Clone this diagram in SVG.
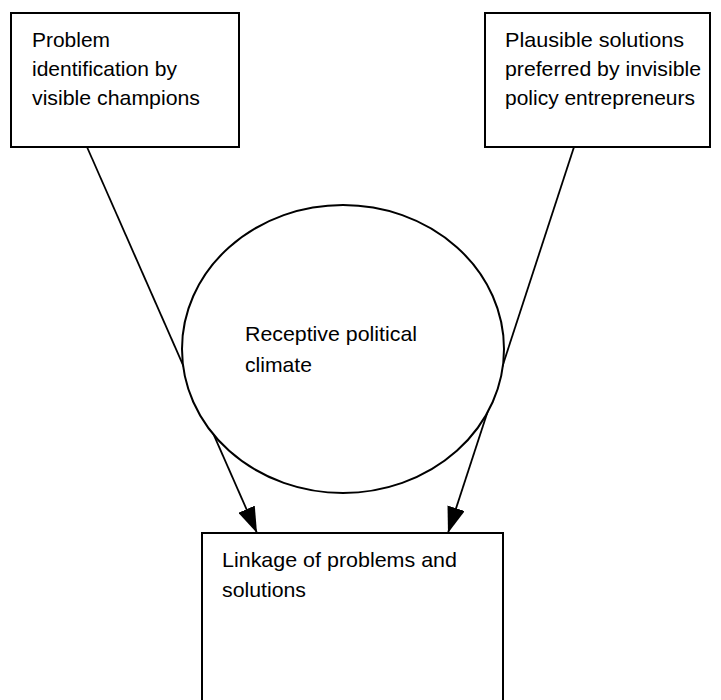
<svg xmlns="http://www.w3.org/2000/svg" width="721" height="700" viewBox="0 0 721 700">
<style>
.box{fill:#fff;stroke:#000;stroke-width:2}
.t{font-family:"Liberation Sans",Arial,sans-serif;font-size:21px;fill:#000}
.conn{stroke:#000;stroke-width:1.8;fill:none}
</style>
<defs>
<marker id="ah" markerUnits="userSpaceOnUse" markerWidth="26" markerHeight="18" refX="26" refY="9" orient="auto">
<path d="M0,0 L26,9 L0,18 z" fill="#000"/>
</marker>
</defs>
<rect width="721" height="700" fill="#fff"/>
<g id="connectors">
<line class="conn" x1="87" y1="147" x2="257" y2="533" marker-end="url(#ah)"/>
<line class="conn" x1="574" y1="147" x2="448" y2="533" marker-end="url(#ah)"/>
</g>
<g id="problem">
<rect class="box" x="11" y="13" width="228" height="134"/>
<text class="t" x="32" y="47" textLength="78" lengthAdjust="spacingAndGlyphs">Problem</text>
<text class="t" x="32" y="76" textLength="145" lengthAdjust="spacingAndGlyphs">identification by</text>
<text class="t" x="32" y="105" textLength="168" lengthAdjust="spacingAndGlyphs">visible champions</text>
</g>
<g id="solutions">
<rect class="box" x="485" y="13" width="225" height="134"/>
<text class="t" x="505" y="47" textLength="179" lengthAdjust="spacingAndGlyphs">Plausible solutions</text>
<text class="t" x="505" y="76" textLength="196" lengthAdjust="spacingAndGlyphs">preferred by invisible</text>
<text class="t" x="505" y="105" textLength="190" lengthAdjust="spacingAndGlyphs">policy entrepreneurs</text>
</g>
<g id="climate">
<ellipse cx="343" cy="349" rx="161" ry="144" fill="#fff" stroke="#000" stroke-width="2"/>
<text class="t" x="245" y="341" textLength="172" lengthAdjust="spacingAndGlyphs">Receptive political</text>
<text class="t" x="245" y="372" textLength="67" lengthAdjust="spacingAndGlyphs">climate</text>
</g>
<g id="linkage">
<rect class="box" x="202" y="533" width="301" height="200"/>
<text class="t" x="222" y="567" textLength="235" lengthAdjust="spacingAndGlyphs">Linkage of problems and</text>
<text class="t" x="222" y="597" textLength="84" lengthAdjust="spacingAndGlyphs">solutions</text>
</g>
</svg>
